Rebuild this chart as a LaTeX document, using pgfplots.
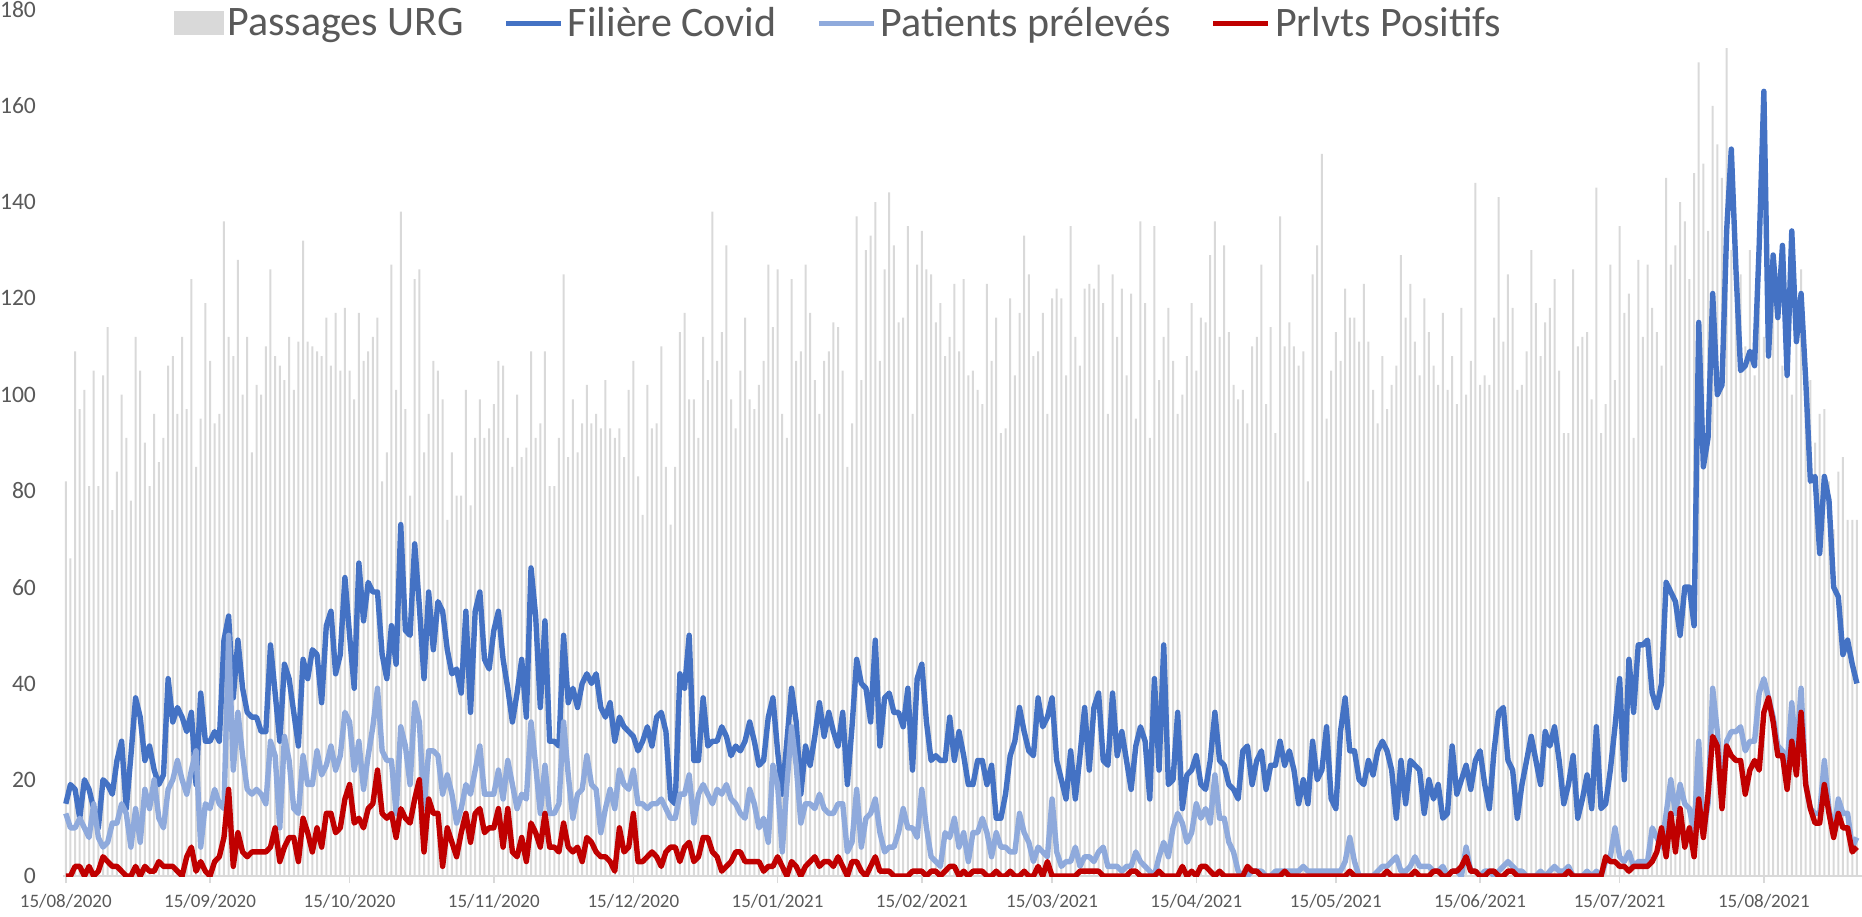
\documentclass[border=0pt]{standalone}
\usepackage{fontspec}
\setmainfont{Carlito}
\usepackage{pgfplots}
\usepackage{pgfplotstable}
\pgfplotsset{compat=1.18}
\definecolor{barc}{HTML}{D9D9D9}
\definecolor{filc}{HTML}{4472C4}
\definecolor{patc}{HTML}{8FAADC}
\definecolor{posc}{HTML}{C00000}
\definecolor{txtc}{HTML}{595959}
\definecolor{axc}{HTML}{D9D9D9}
\pgfplotsset{
  mylinelegend/.style={legend image code/.code={\draw[##1] (0pt,0pt) -- (27.5pt,0pt);}},
  myboxlegend/.style={legend image code/.code={\fill[barc] (0pt,-6pt) rectangle (25pt,6pt);}},
}

\pgfplotstableread[row sep=\\]{v\\
82\\66\\109\\97\\101\\81\\105\\81\\104\\114\\76\\84\\100\\91\\78\\112\\105\\90\\81\\96\\86\\91\\106\\108\\96\\112\\97\\124\\85\\95\\119\\107\\94\\96\\136\\112\\108\\128\\100\\112\\
88\\102\\100\\110\\126\\108\\106\\103\\112\\101\\111\\132\\111\\110\\109\\108\\116\\106\\117\\105\\118\\105\\99\\117\\107\\109\\112\\116\\82\\88\\127\\101\\138\\97\\79\\124\\126\\88\\96\\107\\105\\99\\74\\88\\79\\79\\101\\77\\91\\99\\91\\93\\98\\107\\
106\\91\\85\\100\\87\\89\\109\\91\\94\\109\\81\\81\\91\\125\\87\\99\\88\\94\\102\\94\\96\\93\\103\\93\\91\\93\\87\\101\\107\\83\\75\\102\\93\\94\\110\\85\\73\\85\\113\\117\\99\\99\\91\\112\\103\\138\\107\\113\\131\\99\\93\\105\\116\\99\\
97\\102\\107\\127\\114\\126\\96\\91\\124\\107\\109\\127\\117\\103\\96\\107\\109\\115\\114\\105\\85\\94\\137\\103\\130\\133\\140\\107\\126\\142\\131\\115\\116\\135\\96\\127\\134\\126\\125\\115\\119\\108\\112\\123\\109\\124\\104\\105\\101\\98\\123\\107\\116\\
92\\93\\120\\104\\117\\133\\125\\108\\109\\117\\96\\120\\122\\120\\104\\135\\112\\106\\122\\123\\122\\127\\119\\96\\125\\112\\122\\104\\121\\95\\136\\119\\91\\135\\103\\112\\118\\107\\96\\100\\108\\119\\105\\116\\115\\129\\136\\112\\131\\113\\102\\99\\101\\94\\
110\\112\\127\\98\\114\\92\\137\\110\\115\\110\\106\\109\\82\\125\\131\\150\\95\\105\\113\\107\\122\\116\\116\\111\\123\\111\\101\\94\\108\\97\\102\\106\\129\\116\\123\\111\\104\\120\\113\\106\\102\\117\\101\\108\\98\\118\\100\\107\\144\\102\\104\\102\\116\\141\\
111\\125\\118\\101\\102\\109\\130\\119\\108\\115\\118\\124\\105\\92\\92\\126\\110\\112\\113\\99\\143\\92\\98\\127\\103\\135\\117\\121\\91\\128\\112\\127\\118\\113\\106\\145\\127\\131\\140\\136\\
124\\146\\169\\148\\134\\160\\152\\145\\172\\130\\118\\125\\110\\130\\104\\126\\112\\115\\128\\121\\106\\110\\100\\120\\126\\107\\103\\90\\96\\97\\82\\72\\84\\87\\74\\74\\74\\
}\bars

\pgfplotstableread[row sep=\\]{v\\
15\\19\\18\\12\\20\\18\\14\\10\\20\\19\\17\\24\\28\\14\\25\\37\\33\\24\\27\\22\\19\\21\\41\\32\\35\\33\\30\\34\\19\\38\\28\\28\\30\\28\\49\\54\\37\\49\\39\\34\\
33\\33\\30\\30\\48\\38\\28\\44\\41\\34\\27\\45\\41\\47\\46\\36\\52\\55\\42\\46\\62\\50\\39\\65\\53\\61\\59\\59\\46\\41\\52\\44\\73\\51\\50\\69\\56\\41\\59\\47\\57\\55\\47\\42\\43\\38\\55\\34\\55\\59\\45\\43\\51\\55\\
45\\39\\32\\38\\45\\33\\64\\54\\35\\53\\28\\28\\27\\50\\36\\39\\35\\40\\42\\40\\42\\35\\33\\36\\28\\33\\31\\30\\29\\26\\28\\31\\27\\33\\34\\30\\16\\15\\42\\39\\50\\24\\24\\37\\27\\28\\28\\31\\29\\25\\27\\26\\28\\32\\
28\\23\\24\\33\\37\\26\\17\\28\\39\\32\\17\\27\\23\\29\\36\\29\\34\\30\\27\\34\\19\\31\\45\\40\\39\\32\\49\\27\\37\\38\\34\\34\\31\\39\\22\\41\\44\\32\\24\\25\\24\\24\\33\\24\\30\\25\\19\\19\\24\\24\\19\\23\\12\\
12\\17\\25\\28\\35\\30\\26\\25\\37\\31\\33\\37\\24\\20\\16\\26\\16\\25\\35\\22\\35\\38\\24\\23\\38\\25\\30\\24\\18\\27\\31\\28\\16\\41\\22\\48\\19\\20\\34\\14\\21\\22\\25\\19\\18\\24\\34\\24\\23\\19\\18\\16\\26\\27\\
19\\24\\26\\18\\23\\23\\28\\23\\26\\22\\15\\20\\15\\28\\20\\22\\31\\16\\14\\30\\37\\26\\26\\20\\19\\24\\21\\26\\28\\26\\22\\12\\24\\15\\24\\23\\22\\13\\20\\16\\19\\12\\13\\27\\17\\20\\23\\18\\24\\26\\19\\14\\26\\34\\
35\\24\\22\\12\\19\\24\\29\\24\\19\\30\\27\\31\\24\\15\\19\\25\\12\\16\\21\\14\\31\\14\\15\\22\\31\\41\\20\\45\\34\\48\\48\\49\\38\\35\\40\\61\\59\\57\\50\\60\\
60\\52\\115\\85\\91\\121\\100\\102\\134\\151\\126\\105\\106\\109\\106\\131\\163\\108\\129\\116\\131\\104\\134\\111\\121\\103\\82\\83\\67\\83\\78\\60\\58\\46\\49\\44\\40\\
}\fil

\pgfplotstableread[row sep=\\]{v\\
13\\10\\10\\12\\10\\8\\15\\8\\6\\7\\11\\11\\15\\13\\6\\14\\7\\18\\14\\20\\12\\10\\18\\20\\24\\20\\17\\22\\26\\6\\15\\14\\18\\15\\14\\50\\22\\34\\25\\18\\
17\\18\\17\\15\\28\\25\\10\\29\\24\\14\\13\\25\\19\\19\\26\\21\\23\\27\\22\\25\\34\\32\\22\\28\\18\\25\\31\\39\\26\\24\\24\\13\\31\\27\\19\\36\\32\\14\\26\\26\\25\\17\\21\\17\\11\\14\\19\\17\\22\\27\\17\\17\\17\\22\\
16\\24\\19\\14\\17\\16\\32\\23\\13\\23\\13\\13\\15\\32\\21\\12\\17\\18\\25\\19\\18\\9\\14\\18\\14\\22\\19\\18\\22\\15\\15\\14\\15\\15\\16\\14\\12\\12\\17\\17\\21\\11\\17\\19\\17\\15\\18\\17\\19\\16\\15\\13\\12\\18\\
15\\10\\12\\7\\23\\19\\5\\19\\31\\23\\11\\15\\15\\14\\17\\14\\13\\13\\15\\15\\5\\7\\18\\6\\12\\13\\16\\9\\5\\6\\6\\9\\14\\10\\10\\8\\18\\10\\4\\3\\2\\9\\8\\12\\6\\9\\3\\9\\9\\12\\9\\4\\9\\
6\\6\\5\\5\\13\\9\\7\\3\\6\\5\\4\\16\\5\\2\\3\\3\\6\\2\\4\\4\\3\\5\\6\\2\\2\\2\\1\\2\\2\\5\\3\\2\\1\\0\\4\\7\\4\\10\\13\\11\\7\\9\\15\\12\\14\\11\\21\\12\\12\\7\\5\\1\\0\\0\\
1\\1\\1\\0\\0\\1\\1\\1\\1\\1\\1\\2\\1\\1\\1\\1\\1\\1\\1\\1\\3\\8\\3\\0\\0\\0\\0\\1\\2\\2\\3\\4\\1\\1\\2\\4\\2\\2\\2\\1\\1\\2\\0\\1\\1\\0\\6\\1\\1\\0\\1\\1\\0\\1\\
2\\3\\2\\1\\1\\0\\0\\0\\1\\0\\1\\2\\1\\1\\2\\0\\0\\0\\1\\0\\1\\0\\3\\4\\10\\4\\3\\5\\2\\3\\3\\3\\10\\8\\6\\13\\20\\13\\19\\15\\
14\\9\\28\\9\\15\\39\\30\\16\\28\\30\\30\\31\\26\\28\\28\\38\\41\\37\\33\\27\\26\\23\\36\\25\\39\\19\\14\\13\\13\\24\\14\\9\\16\\13\\13\\6\\8\\
}\pat

\pgfplotstableread[row sep=\\]{v\\
0\\0\\2\\2\\0\\2\\0\\1\\4\\3\\2\\2\\1\\0\\0\\2\\0\\2\\1\\1\\3\\2\\2\\2\\1\\0\\4\\6\\1\\3\\1\\0\\3\\4\\8\\18\\2\\9\\5\\4\\
5\\5\\5\\5\\6\\10\\3\\6\\8\\8\\3\\12\\9\\5\\10\\6\\13\\13\\9\\10\\16\\19\\11\\12\\10\\14\\15\\22\\13\\12\\13\\8\\14\\12\\11\\16\\20\\5\\16\\13\\13\\2\\10\\7\\4\\9\\13\\7\\13\\14\\9\\10\\10\\14\\
6\\14\\5\\4\\8\\3\\11\\9\\6\\13\\6\\6\\5\\11\\6\\5\\6\\3\\8\\7\\5\\4\\4\\3\\1\\10\\5\\6\\13\\3\\3\\4\\5\\4\\2\\5\\6\\6\\3\\6\\7\\3\\4\\8\\8\\5\\4\\1\\2\\3\\5\\5\\3\\3\\
3\\3\\1\\2\\2\\4\\2\\0\\3\\2\\0\\2\\3\\4\\2\\3\\3\\2\\4\\2\\0\\3\\3\\1\\0\\2\\4\\1\\1\\1\\0\\0\\0\\0\\1\\1\\1\\0\\1\\1\\0\\1\\2\\2\\0\\1\\0\\1\\1\\1\\0\\0\\1\\
0\\0\\1\\0\\0\\1\\0\\0\\2\\0\\3\\0\\0\\0\\0\\0\\0\\1\\1\\1\\1\\1\\0\\0\\0\\0\\0\\0\\1\\1\\0\\0\\0\\0\\1\\0\\0\\0\\0\\2\\0\\1\\0\\2\\2\\1\\0\\1\\0\\0\\0\\0\\0\\2\\
1\\1\\0\\0\\0\\0\\0\\1\\0\\0\\0\\0\\0\\0\\0\\0\\0\\0\\0\\0\\0\\1\\0\\0\\0\\0\\0\\0\\0\\1\\0\\0\\0\\0\\0\\1\\0\\0\\0\\1\\1\\0\\0\\1\\1\\2\\4\\1\\1\\0\\0\\1\\1\\0\\
0\\1\\1\\0\\0\\0\\0\\0\\0\\0\\0\\0\\0\\0\\1\\0\\0\\0\\0\\0\\0\\0\\4\\3\\3\\2\\2\\1\\2\\2\\2\\2\\3\\5\\10\\4\\13\\5\\14\\6\\
10\\4\\16\\8\\17\\29\\27\\14\\27\\25\\24\\24\\17\\22\\24\\22\\34\\37\\32\\25\\25\\18\\28\\21\\34\\19\\14\\11\\11\\19\\13\\8\\13\\10\\10\\5\\6\\
}\pos

\begin{document}
\begin{tikzpicture}
\path[use as bounding box] (-31.5pt,-20pt) rectangle (899.5pt,438pt);
\begin{axis}[
  at={(0pt,0pt)}, anchor=south west,
  scale only axis, width=899.5pt, height=433.25pt,
  xmin=-0.6, xmax=386.1, ymin=0, ymax=180,
  axis x line*=bottom, axis y line*=left,
  y axis line style={draw=none},
  x axis line style={draw=axc, line width=0.75pt},
  ytick={0,20,...,180},
  ytick style={draw=none},
  xtick={0,31,61,92,122,153,184,212,243,273,304,334,365},
  xticklabels={15/08/2020,15/09/2020,15/10/2020,15/11/2020,15/12/2020,15/01/2021,15/02/2021,15/03/2021,15/04/2021,15/05/2021,15/06/2021,15/07/2021,15/08/2021},
  tick align=outside,
  major tick length=3.5pt,
  x tick style={draw=axc, line width=0.75pt},
  /pgf/number format/assume math mode=true,
  xticklabel style={font=\fontsize{9.5}{10}\selectfont, text=txtc, yshift=-2pt},
  yticklabel style={font=\fontsize{11.8}{12}\selectfont, text=txtc, xshift=-6.5pt},
  legend columns=4,
  legend style={at={(axis description cs:0.0612,0.984)}, anchor=west, draw=none, fill=none, inner sep=0pt,
    font=\fontsize{21}{24}\selectfont, text=txtc,
    /tikz/every even column/.append style={column sep=18pt}},
]
\addplot[ybar, bar width=1pt, fill=barc, draw=none, myboxlegend]
  table[x expr=\coordindex, y=v]{\bars};
\addlegendentry{Passages URG}
\addplot[filc, line width=2.7pt, line join=round, no markers, mylinelegend]
  table[x expr=\coordindex, y=v]{\fil};
\addlegendentry{Filière Covid}
\addplot[patc, line width=2.7pt, line join=round, no markers, mylinelegend]
  table[x expr=\coordindex, y=v]{\pat};
\addlegendentry{Patients prélevés}
\addplot[posc, line width=2.7pt, line join=round, no markers, mylinelegend]
  table[x expr=\coordindex, y=v]{\pos};
\addlegendentry{Prlvts Positifs}
\end{axis}
\end{tikzpicture}
\end{document}
